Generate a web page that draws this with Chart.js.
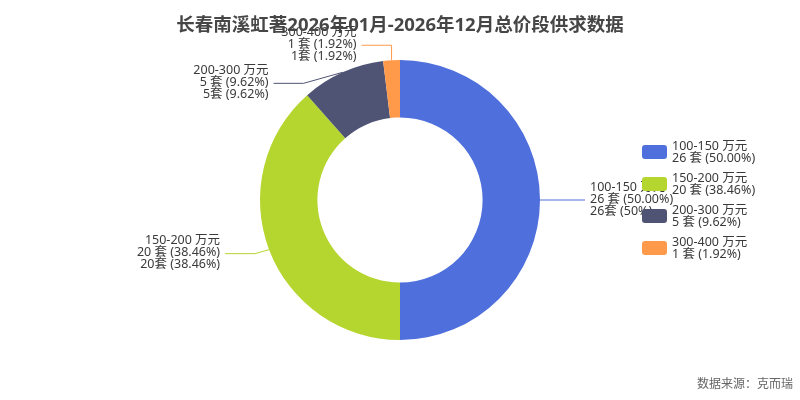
<!DOCTYPE html>
<html>
<head>
<meta charset="utf-8">
<script src="https://cdn.jsdelivr.net/npm/chart.js@4.4.1/dist/chart.umd.min.js"></script>
<style>
  html, body { margin: 0; padding: 0; background: #fff; }
  #wrap { width: 800px; height: 400px; }
</style>
</head>
<body>
<div id="wrap"><canvas id="myChart" width="800" height="400"></canvas></div>
<script>
const title = '长春南溪虹著2026年01月-2026年12月总价段供求数据';
const source = '数据来源：克而瑞';
const categories = ['100-150 万元', '150-200 万元', '200-300 万元', '300-400 万元'];
const counts = [26, 20, 5, 1];
const colors = ['#4f70dc', '#b5d52f', '#4f5374', '#ff9a4a'];

const font = '"Noto Sans", "Noto Sans CJK SC", sans-serif';
const total = counts.reduce((a, b) => a + b, 0);
const pct = counts.map(c => (c / total * 100).toFixed(2));

// leader line bend per slice (dx, dy from the outer edge), then horizontal run
const bends = [[15, 0], [-14, 4], [-39, 11], [0, -15]];

const labelsPlugin = {
    id: 'sliceLabels',
    afterDatasetsDraw(chart) {
        const c = chart.ctx;
        const arcs = chart.getDatasetMeta(0).data;
        c.save();
        c.font = '12.5px ' + font;
        c.textBaseline = 'middle';
        c.fillStyle = '#3a3a3a';
        arcs.forEach((arc, i) => {
            const mid = (arc.startAngle + arc.endAngle) / 2;
            const x0 = arc.x + Math.cos(mid) * arc.outerRadius;
            const y0 = arc.y + Math.sin(mid) * arc.outerRadius;
            const x1 = x0 + bends[i][0];
            const y1 = y0 + bends[i][1];
            const right = Math.cos(mid) > 0.01;
            const x2 = x1 + (right ? 30 : -30);
            c.strokeStyle = colors[i];
            c.lineWidth = 1;
            c.beginPath();
            c.moveTo(x0, y0);
            c.lineTo(x1, y1);
            c.lineTo(x2, y1);
            c.stroke();
            const lines = [
                categories[i],
                counts[i] + ' 套 (' + pct[i] + '%)',
                counts[i] + '套 (' + parseFloat(pct[i]) + '%)'
            ];
            c.textAlign = right ? 'left' : 'right';
            const tx = x2 + (right ? 5 : -5);
            lines.forEach((t, k) => c.fillText(t, tx, y1 - 1 + (k - 1) * 12));
        });
        c.restore();
    },
    afterDraw(chart) {
        const c = chart.ctx;
        c.save();
        // legend
        c.font = '12.5px ' + font;
        c.textBaseline = 'middle';
        c.textAlign = 'left';
        categories.forEach((name, i) => {
            const cy = 152 + i * 32;
            c.fillStyle = colors[i];
            c.beginPath();
            c.roundRect(642, cy - 7, 25, 14, 3);
            c.fill();
            c.fillStyle = '#3a3a3a';
            c.fillText(name, 672, cy - 6);
            c.fillText(counts[i] + ' 套 (' + pct[i] + '%)', 672, cy + 6);
        });
        // title
        c.font = 'bold 18.5px ' + font;
        c.textAlign = 'center';
        c.fillStyle = '#464646';
        c.fillText(title, 400, 26);
        // source
        c.font = '12px ' + font;
        c.textAlign = 'right';
        c.fillStyle = '#666';
        c.fillText(source, 793, 385);
        c.restore();
    }
};

new Chart(document.getElementById('myChart'), {
    type: 'doughnut',
    data: {
        labels: categories,
        datasets: [{
            data: counts,
            backgroundColor: colors,
            borderWidth: 0,
            hoverOffset: 0
        }]
    },
    options: {
        responsive: false,
        animation: false,
        cutout: '59%',
        layout: { padding: { top: 60, bottom: 60, left: 0, right: 0 } },
        plugins: {
            legend: { display: false },
            title: { display: false },
            tooltip: { enabled: false }
        }
    },
    plugins: [labelsPlugin]
});
</script>
</body>
</html>
